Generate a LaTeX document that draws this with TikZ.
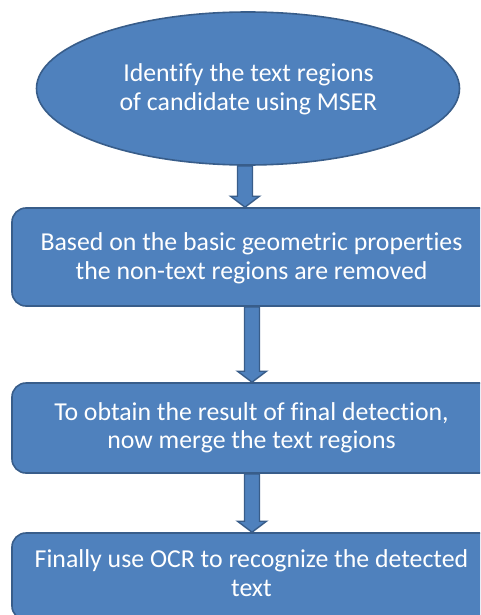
\documentclass[tikz,border=0pt]{standalone}
\usepackage{fontspec}
\setmainfont{Carlito}[Ligatures=NoCommon]
\usetikzlibrary{shapes.geometric,calc}
\definecolor{boxfill}{HTML}{4F81BD}
\definecolor{boxline}{HTML}{385D8A}
\tikzset{
  flowtext/.style={text=white, align=center, inner sep=0pt, anchor=base, font=\fontsize{25.8}{28.3}\selectfont},
  ovalbox/.style={ellipse, draw=boxline, line width=1.6pt, fill=boxfill, inner sep=0pt},
  stepbox/.style={rectangle, rounded corners=14pt, draw=boxline, line width=1.6pt, fill=boxfill, inner sep=0pt, minimum width=520pt},
  blockarrow/.style={draw=boxline, line width=1.4pt, fill=boxfill, line join=miter}
}
\newcommand\myblockarrow[3]{%
  \draw[blockarrow] let \p1=(#1), \p2=(#2) in
    (\x1+#3-7.5pt,\y1) -- (\x1+#3+7.5pt,\y1) -- (\x1+#3+7.5pt,\y2+11pt) -- (\x1+#3+14.5pt,\y2+11pt)
    -- (\x1+#3,\y2) -- (\x1+#3-14.5pt,\y2+11pt) -- (\x1+#3-7.5pt,\y2+11pt) -- cycle;}
\begin{document}
\begin{tikzpicture}[x=1pt,y=-1pt]
\useasboundingbox (0,0) rectangle (480,615);
\clip (0,0) rectangle (480,615);
\fill[white] (0,0) rectangle (480,615);
\node[ovalbox, minimum width=423pt, minimum height=153pt] (e) at (248,88.5) {};
\node[stepbox, minimum height=98pt] (b1) at (272,257) {};
\node[stepbox, minimum height=90pt] (b2) at (272,428) {};
\node[stepbox, minimum height=87pt] (b3) at (272,576.5) {};
\myblockarrow{e.south}{b1.north}{-3pt}
\myblockarrow{b1.south}{b2.north}{-20pt}
\myblockarrow{b2.south}{b3.north}{-20pt}
\node[flowtext] (te) at (248.5,110.3) {Identify the text regions\\of candidate using MSER};
\node[flowtext] (t1) at (251.5,279.2) {Based on the basic geometric properties\\the non-text regions are removed};
\node[flowtext] (t2) at (251.5,448.3) {To obtain the result of final detection,\\now merge the text regions};
\node[flowtext] (t3) at (251.5,596.2) {Finally use OCR to recognize the detected\\text};
\end{tikzpicture}
\end{document}
